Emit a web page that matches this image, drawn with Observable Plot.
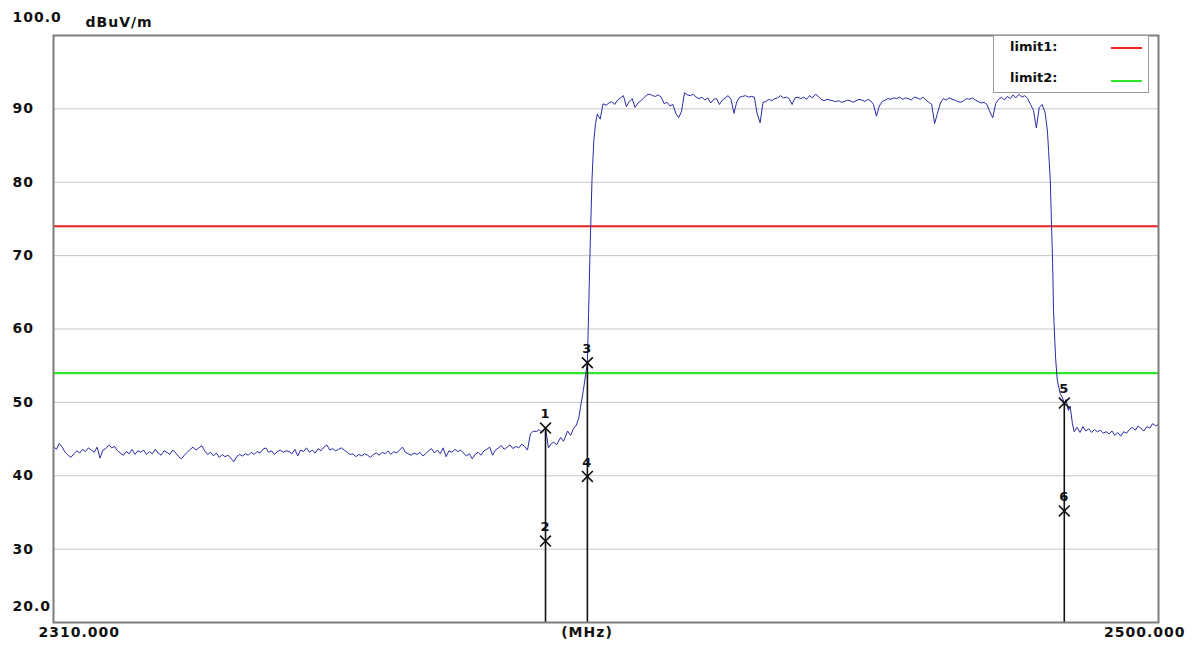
<!DOCTYPE html>
<html><head><meta charset="utf-8">
<script src="https://cdn.jsdelivr.net/npm/d3@7"></script>
<script src="https://cdn.jsdelivr.net/npm/@observablehq/plot@0.6"></script>
<style>
body{margin:0;background:#fff;}
#wrap{position:relative;width:1193px;height:650px;background:#fff;}
.legend{position:absolute;left:993px;top:35px;width:156px;height:58px;border:1.5px solid #9a9a9a;background:#fff;box-sizing:border-box;font:bold 13px "DejaVu Sans",sans-serif;color:#111;}
.legend .row{position:absolute;left:16px;}
.legend .sw{position:absolute;left:117px;width:31px;height:2px;}
</style></head>
<body><div id="wrap">
<div class="legend">
  <div class="row" style="top:3px">limit1:</div><div class="sw" style="top:11px;background:#e8251f"></div>
  <div class="row" style="top:34px">limit2:</div><div class="sw" style="top:44px;background:#2ee62e"></div>
</div>
</div>
<script>
// ---- axis / tick data ----
const xDomain = [2310, 2500];
const yDomain = [20, 100];
const gridLevels = [30, 40, 50, 60, 70, 80, 90];
const yTickLabels = ["30", "40", "50", "60", "70", "80", "90"];
const xLabels = ["2310.000", "(MHz)", "2500.000"];
const unitLabel = "dBuV/m";

// ---- limit lines ----
const limit1 = 74;
const limit2 = 54;

// ---- trace: sweep segment below band (start 2310, 0.5 MHz points) ----
const lowStart = 2310, lowStep = 0.5;
const lowLevels = [
 44.0,43.6,44.4,43.9,43.2,42.8,42.5,43.0,43.4,43.1,
 43.6,43.3,43.8,43.5,43.2,43.9,42.4,43.5,43.7,44.2,
 43.8,44.0,43.4,43.1,42.8,43.3,43.0,43.6,42.9,43.4,
 43.2,43.5,42.9,43.3,43.0,43.6,43.1,42.8,43.4,43.2,
 42.9,43.5,43.1,42.6,42.3,42.8,43.2,43.6,43.9,43.5,
 43.8,44.1,43.4,42.9,43.2,42.7,43.1,42.5,42.9,42.6,
 42.8,42.4,41.9,42.6,42.9,42.7,43.0,42.8,43.2,42.9,
 43.3,43.1,43.6,43.8,43.2,43.4,42.9,43.3,43.5,43.2,
 43.4,43.3,43.0,43.6,42.7,43.5,43.3,43.8,43.2,43.5,
 43.1,43.7,43.4,43.9,44.2,43.5,43.7,43.4,43.6,43.8,
 43.5,43.2,42.9,43.0,42.6,42.9,42.7,43.0,42.8,42.5,
 42.9,43.1,42.8,43.2,43.0,43.4,42.9,43.3,43.1,43.5,
 43.9,43.2,43.0,42.8,43.1,42.9,43.2,42.7,43.0,43.4,
 43.7,43.1,43.5,43.0,43.8,42.6,43.4,43.2,43.6,43.3,
 43.5,43.1,42.7,43.0,42.3,42.9,43.2,42.8,43.4,43.6,
 43.9,42.8,43.5,43.8,44.1,43.6,43.9,44.2,43.7,44.0,
 43.8,44.3,44.0,43.5,45.7,46.1
];
// ---- rising edge ----
const riseFreq = [2393.0,2393.5,2394.0,2394.6,2395.1,2395.5,2396.0,2396.5,2397.2,2397.7,2398.4,2398.9,2399.4,2399.9,2400.3,2400.6,2401.1,2401.5,2401.8,2402.0,2402.3,2402.6,2402.9,2403.2,2403.5];
const riseLevel = [46.0,46.3,45.9,46.5,43.8,44.3,44.6,44.2,45.2,44.7,46.1,45.5,46.4,46.9,47.8,49.3,51.6,53.8,55.4,62.0,72.0,80.5,85.6,88.0,89.3];
// ---- in-band plateau (start 2404, 0.5 MHz points) ----
const bandStart = 2404, bandStep = 0.5;
const bandLevels = [
 88.6,90.7,90.5,90.8,91.0,90.6,91.2,91.5,91.8,90.3,
 91.0,91.4,90.2,90.8,91.1,91.5,91.9,92.0,91.8,91.7,
 91.9,91.6,90.7,90.9,90.4,90.6,89.4,88.8,89.7,92.2,
 91.9,91.8,92.0,91.6,91.4,91.6,91.2,91.5,90.8,91.3,
 91.4,90.6,91.2,91.5,91.8,91.3,89.4,91.0,91.6,91.7,
 91.8,91.6,91.7,91.6,89.3,88.1,90.9,91.0,91.3,91.1,
 91.4,91.5,91.8,91.5,91.6,91.4,90.6,91.5,91.6,91.4,
 91.6,91.3,91.8,91.5,92.0,91.7,91.3,91.1,91.3,91.2,
 91.1,91.0,91.1,90.9,91.0,91.2,91.1,90.9,91.1,91.3,
 91.2,91.0,91.3,91.1,90.6,89.0,90.4,91.0,91.2,91.4,
 91.3,91.5,91.4,91.6,91.3,91.5,91.4,91.2,91.6,91.5,
 91.3,91.6,91.2,90.9,90.6,88.0,89.4,90.8,91.4,91.2,
 91.5,91.3,91.2,91.0,90.9,91.1,91.4,91.3,91.5,91.2,
 91.0,90.8,90.9,90.6,89.6,88.8,90.7,91.3,91.6,91.2,
 91.7,91.4,91.9,91.5,92.0,91.6,91.8,91.4,90.6,89.8,
 87.4,90.2,90.6
];
// ---- falling edge ----
const fallFreq = [2480.5,2480.9,2481.1,2481.4,2481.6,2481.8,2481.95,2482.3,2482.6,2483.1,2483.5,2483.8,2484.1,2484.5,2484.8,2485.2];
const fallLevel = [89.5,87.0,84.3,80.2,74.3,68.9,62.5,56.1,53.0,51.2,50.6,49.9,50.4,48.9,49.5,47.1];
// ---- above band (start 2485.5, 0.5 MHz points) ----
const highStart = 2485.5, highStep = 0.5;
const highLevels = [
 46.0,46.6,45.9,46.7,46.1,46.4,45.9,46.3,46.0,46.2,
 45.8,46.0,45.7,46.1,45.5,45.9,45.4,46.0,45.8,46.3,
 46.6,46.2,46.8,46.4,46.1,46.7,46.5,47.1,46.8,47.0
];

// ---- markers ----
const markerNo = ["1","2","3","4","5","6"];
const markerFreq = [2394.6,2394.6,2401.8,2401.8,2483.8,2483.8];
const markerLevel = [46.5,31.1,55.4,39.9,49.9,35.2];

// build tables
const trace = [];
lowLevels.forEach((v,i)=>trace.push({f: lowStart + i*lowStep, v}));
riseFreq.forEach((f,i)=>trace.push({f, v: riseLevel[i]}));
bandLevels.forEach((v,i)=>trace.push({f: bandStart + i*bandStep, v}));
fallFreq.forEach((f,i)=>trace.push({f, v: fallLevel[i]}));
highLevels.forEach((v,i)=>trace.push({f: highStart + i*highStep, v}));

const markers = markerNo.map((n,i)=>({n, f: markerFreq[i], v: markerLevel[i]}));
const stems = markers.filter((d,i)=>i%2===0);

const txt = {fill:"#111", fontWeight:"bold", fontSize:14};

const chart = Plot.plot({
  width: 1193, height: 650,
  marginLeft: 53, marginRight: 35, marginTop: 35, marginBottom: 28,
  x: {domain: xDomain, axis: null},
  y: {domain: yDomain, axis: null},
  style: {background:"#fff", fontFamily:"'DejaVu Sans', sans-serif", letterSpacing:"1px", color:"#111"},
  marks: [
    Plot.ruleY(gridLevels, {stroke:"#c6c6c6", strokeWidth:1}),
    Plot.ruleY([limit1], {stroke:"#e8251f", strokeWidth:2}),
    Plot.ruleY([limit2], {stroke:"#2ee62e", strokeWidth:2.2}),
    Plot.line(trace, {x:"f", y:"v", stroke:"#2a2aa6", strokeWidth:1}),
    Plot.ruleX(stems, {x:"f", y1:"v", y2: yDomain[0], stroke:"#111", strokeWidth:1.6}),
    Plot.dot(markers, {x:"f", y:"v", symbol:"times", r:5, stroke:"#111", strokeWidth:1.6}),
    Plot.text(markers, {x:"f", y:"v", text:"n", dy:-14, ...txt, fontSize:13}),
    Plot.frame({stroke:"#7d7d7d", strokeWidth:2}),
    // y tick labels
    Plot.text(gridLevels, {y: d=>d, text:(d,i)=>yTickLabels[i], frameAnchor:"left", dx:-41, textAnchor:"start", ...txt}),
    Plot.text(["100.0"], {y: [yDomain[1]], frameAnchor:"left", dx:-41, dy:-18, textAnchor:"start", ...txt}),
    Plot.text(["20.0"], {y: [yDomain[0]], frameAnchor:"left", dx:-41, dy:-16, textAnchor:"start", ...txt}),
    Plot.text([unitLabel], {frameAnchor:"top-left", dx:32, dy:-18, textAnchor:"start", ...txt}),
    // x labels
    Plot.text([xLabels[0]], {x: [xDomain[0]], frameAnchor:"bottom", dx:-15, dy:14, textAnchor:"start", ...txt}),
    Plot.text([xLabels[1]], {frameAnchor:"bottom", dx:-19, dy:14, textAnchor:"middle", ...txt}),
    Plot.text([xLabels[2]], {x: [xDomain[1]], frameAnchor:"bottom", dx:27, dy:14, textAnchor:"end", ...txt})
  ]
});
document.getElementById("wrap").prepend(chart);
</script>
</body></html>
